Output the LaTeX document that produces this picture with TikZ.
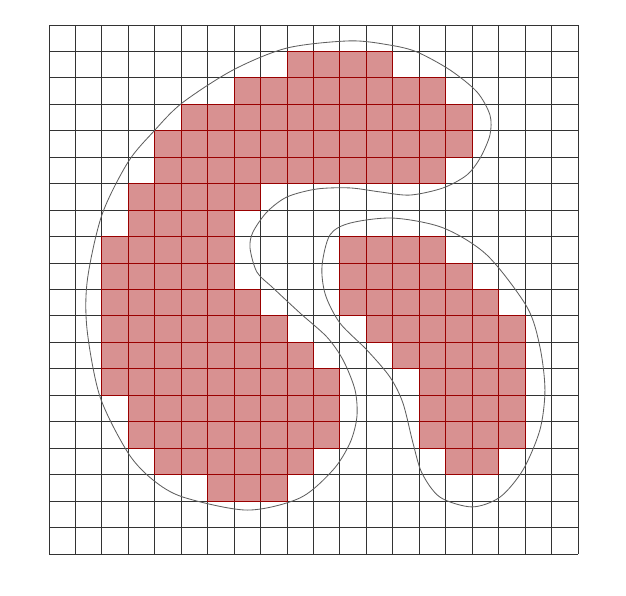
\documentclass[tikz,border=0pt]{standalone}
\usepackage{xcolor}
\usepackage{tikz}
\definecolor{ink}{HTML}{333333}
\definecolor{cellfill}{HTML}{D89191}
\definecolor{celledge}{HTML}{990000}
\definecolor{region}{HTML}{5F5F5F}

\begin{document}
\begin{tikzpicture}[
  x=5mm,y=5mm,
  gridline/.style={line width=0.5pt,color=ink},
  cell/.style={fill=cellfill,draw=celledge,line width=0.5pt},
  outline/.style={line width=0.45pt,color=region}
]
\useasboundingbox (-1.853,-1.588) rectangle (21.815,20.945);
\draw[gridline,step=1] (0,0) grid (20,20);
% covered cells, row counted from the top: row/first/last column
\foreach \r/\a/\b in {1/9/12, 2/7/14, 3/5/15, 4/4/15, 5/4/14, 6/3/7, 7/3/6,
    8/2/6, 8/11/14, 9/2/6, 9/11/15, 10/2/7, 10/11/16, 11/2/8, 11/12/17,
    12/2/9, 12/13/17, 13/2/10, 13/14/17, 14/3/10, 14/14/17, 15/3/10,
    15/14/17, 16/4/9, 16/15/16, 17/6/8}{
  \foreach \c in {\a,...,\b}
    \draw[cell] (\c,{19-\r}) rectangle ++(1,1);
}
% the two regions
\draw[outline] plot[smooth cycle] coordinates {
  (11.38,19.40) (12.89,19.24) (13.91,18.98) (15.16,18.30) (16.18,17.47)
  (16.67,16.60) (16.67,15.84) (16.30,14.97) (15.80,14.33) (14.90,13.84)
  (13.65,13.57) (12.51,13.69) (11.38,13.84) (10.13,13.80) (9.00,13.50)
  (8.24,12.93) (7.71,12.17) (7.60,11.57) (7.86,10.66) (8.47,10.06)
  (9.49,9.11) (10.51,8.20) (11.12,7.33) (11.57,6.20) (11.64,5.18)
  (11.38,4.20) (10.74,3.18) (9.49,2.12) (7.49,1.66) (5.07,2.15)
  (3.93,2.80) (2.99,3.82) (1.93,5.94) (1.44,8.47) (1.45,10.36)
  (2.00,12.82) (2.99,14.82) (3.97,15.99) (5.03,17.05) (6.96,18.30)
  (9.00,19.13)};
\draw[outline] plot[smooth cycle] coordinates {
  (13.01,12.70) (14.90,12.33) (16.56,11.30) (18.07,9.34) (18.56,7.83)
  (18.75,6.20) (18.56,4.69) (17.92,3.18) (17.05,2.15) (15.99,1.78)
  (14.78,2.15) (14.10,3.06) (13.76,4.20) (13.38,5.71) (12.89,6.69)
  (12.02,7.71) (11.00,8.73) (10.45,9.80) (10.32,10.87) (10.62,12.06)
  (11.38,12.51)};
\end{tikzpicture}
\end{document}
